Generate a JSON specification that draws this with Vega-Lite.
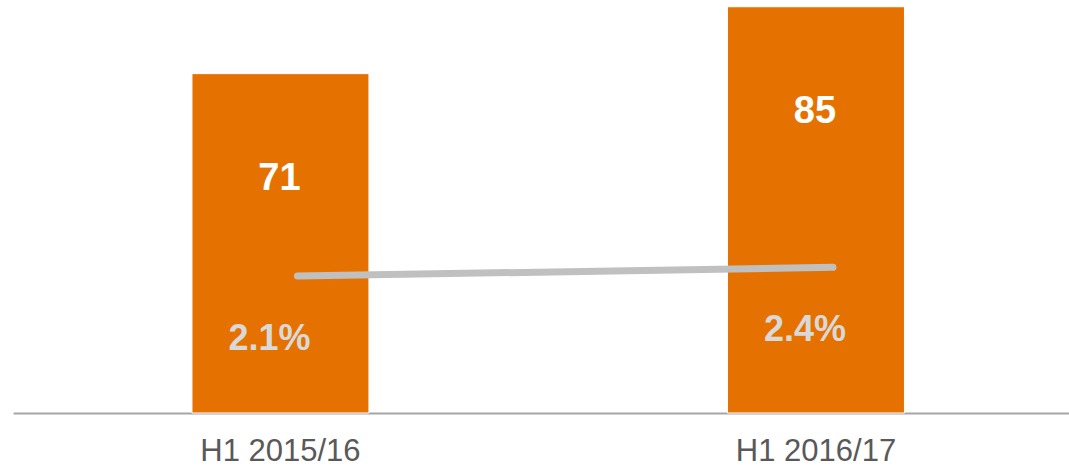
{
  "$schema": "https://vega.github.io/schema/vega-lite/v6.json",
  "autosize": "none",
  "width": 1056,
  "height": 412,
  "padding": {"left": 13, "top": 1, "right": 0, "bottom": 56},
  "background": "#ffffff",
  "config": {"view": {"stroke": null}, "font": "Liberation Sans"},
  "data": {"values": [
    {"period": "H1 2015/16", "value": 71, "pct": 0.021},
    {"period": "H1 2016/17", "value": 85, "pct": 0.024}
  ]},
  "encoding": {
    "x": {
      "field": "period", "type": "nominal", "sort": null,
      "scale": {"paddingInner": 0.6695, "paddingOuter": 0.3207, "align": 0.521},
      "axis": {
        "title": null, "labelAngle": 0, "ticks": false, "labelFontSize": 31,
        "labelColor": "#595959", "labelPadding": 23, "domainColor": "#A6A6A6",
        "domainWidth": 2, "labelFont": "Liberation Sans"
      }
    }
  },
  "layer": [
    {
      "mark": {"type": "bar", "color": "#E57200", "stroke": "#ffffff", "strokeWidth": 1},
      "encoding": {
        "y": {"field": "value", "type": "quantitative", "scale": {"domain": [0, 86.2], "nice": false, "zero": true}, "axis": null}
      }
    },
    {
      "mark": {"type": "text", "color": "#ffffff", "fontWeight": "bold", "fontSize": 38, "baseline": "middle", "dy": 105, "dx": -1},
      "encoding": {
        "y": {"field": "value", "type": "quantitative", "scale": {"domain": [0, 86.2], "nice": false, "zero": true}, "axis": null},
        "text": {"field": "value", "type": "quantitative"}
      }
    },
    {
      "layer": [
        {
          "mark": {"type": "line", "color": "#C0C0C0", "strokeWidth": 7, "strokeCap": "round", "xOffset": 17},
          "encoding": {
            "y": {"field": "pct", "type": "quantitative", "scale": {"domain": [-0.0262, 0.1158], "nice": false, "zero": false}, "axis": null}
          }
        },
        {
          "mark": {"type": "text", "color": "#D9D9D9", "fontWeight": "bold", "fontSize": 36, "baseline": "middle", "dy": 63, "dx": -11},
          "encoding": {
            "y": {"field": "pct", "type": "quantitative", "scale": {"domain": [-0.0262, 0.1158], "nice": false, "zero": false}, "axis": null},
            "text": {"field": "pct", "type": "quantitative", "format": ".1%"}
          }
        }
      ]
    }
  ],
  "resolve": {"scale": {"y": "independent"}}
}
